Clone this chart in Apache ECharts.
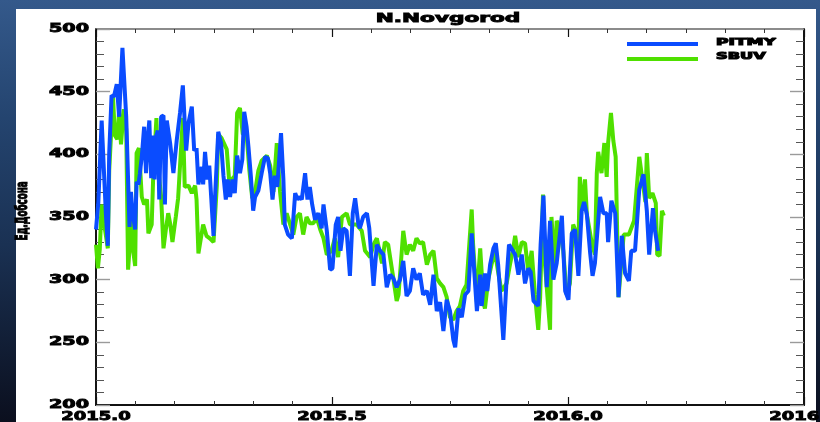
<!DOCTYPE html>
<html>
<head>
<meta charset="utf-8">
<script src="https://cdn.jsdelivr.net/npm/echarts@6/dist/echarts.min.js"></script>
<style>
html, body { margin: 0; padding: 0; width: 820px; height: 422px; overflow: hidden; }
body { position: relative; background: linear-gradient(180deg, #34598b 0%, #24446f 28%, #1a3153 58%, #0b0f1e 100%); }
#panel { position: absolute; left: 16px; top: 9px; width: 800px; height: 413px; background: #ffffff; }
#chart { position: absolute; left: 0; top: 0; width: 820px; height: 422px; }
</style>
</head>
<body>
<div id="panel"></div>
<div id="chart"></div>
<script>
// Total ozone over N.Novgorod, Dobson units, by decimal year
const chartTitle = 'N.Novgorod';
const yAxisTitle = 'Ед.Добсона';
const xTickLabels = ['2015.0', '2015.5', '2016.0', '2016.5'];
const xTickValues = [2015.0, 2015.5, 2016.0, 2016.5];
const yTickLabels = [200, 250, 300, 350, 400, 450, 500];
const seriesNames = ['PITMY', 'SBUV'];

const pitmy = [
  [2015.000,340],[2015.005,362],[2015.012,427],[2015.017,385],[2015.021,352],[2015.025,327],[2015.028,401],[2015.033,447],
  [2015.038,446],[2015.044,456],[2015.049,430],[2015.056,485],[2015.064,430],[2015.071,342],[2015.074,370],[2015.078,352],
  [2015.083,340],[2015.086,378],[2015.090,376],[2015.093,385],[2015.097,398],[2015.102,422],[2015.106,385],[2015.110,414],
  [2015.113,427],[2015.117,381],[2015.120,415],[2015.124,380],[2015.127,414],[2015.131,419],[2015.134,364],[2015.138,430],
  [2015.143,431],[2015.146,360],[2015.150,427],[2015.157,409],[2015.164,385],[2015.171,411],[2015.178,433],[2015.184,455],
  [2015.191,403],[2015.196,425],[2015.203,438],[2015.208,403],[2015.213,405],[2015.217,376],[2015.224,390],[2015.227,376],
  [2015.231,402],[2015.236,380],[2015.240,391],[2015.249,335],[2015.252,364],[2015.259,418],[2015.265,409],[2015.270,383],
  [2015.275,364],[2015.279,380],[2015.284,366],[2015.289,380],[2015.294,369],[2015.299,399],[2015.305,385],[2015.310,396],
  [2015.314,434],[2015.319,422],[2015.323,406],[2015.328,383],[2015.333,355],[2015.337,366],[2015.344,371],[2015.351,385],
  [2015.358,398],[2015.364,397],[2015.369,385],[2015.374,364],[2015.379,383],[2015.384,374],[2015.392,417],[2015.397,380],
  [2015.400,344],[2015.407,336],[2015.415,333],[2015.422,369],[2015.427,364],[2015.432,366],[2015.436,364],[2015.443,385],
  [2015.448,364],[2015.453,374],[2015.458,360],[2015.464,348],[2015.471,353],[2015.478,341],[2015.482,360],[2015.489,339],
  [2015.496,308],[2015.501,309],[2015.508,344],[2015.513,350],[2015.518,323],[2015.524,341],[2015.531,339],[2015.538,303],
  [2015.544,353],[2015.549,365],[2015.556,344],[2015.559,341],[2015.566,350],[2015.574,353],[2015.579,341],[2015.588,295],
  [2015.595,328],[2015.602,323],[2015.609,320],[2015.616,294],[2015.623,304],[2015.630,301],[2015.637,294],[2015.644,300],
  [2015.651,315],[2015.658,287],[2015.665,291],[2015.672,309],[2015.679,300],[2015.686,305],[2015.693,288],[2015.701,291],
  [2015.708,280],[2015.715,304],[2015.722,275],[2015.729,282],[2015.736,259],[2015.743,284],[2015.750,275],[2015.757,252],
  [2015.761,246],[2015.768,277],[2015.775,270],[2015.782,288],[2015.789,291],[2015.796,337],[2015.799,336],[2015.807,275],
  [2015.814,304],[2015.817,279],[2015.824,305],[2015.829,291],[2015.835,312],[2015.842,325],[2015.847,329],[2015.852,312],
  [2015.863,252],[2015.870,301],[2015.875,328],[2015.880,325],[2015.888,320],[2015.895,304],[2015.902,320],[2015.909,297],
  [2015.916,309],[2015.921,306],[2015.927,283],[2015.937,279],[2015.942,328],[2015.948,367],[2015.955,294],[2015.962,347],
  [2015.969,300],[2015.976,313],[2015.987,351],[2015.994,291],[2016.001,284],[2016.008,337],[2016.015,340],[2016.022,303],
  [2016.029,355],[2016.034,362],[2016.040,352],[2016.047,321],[2016.052,303],[2016.057,313],[2016.068,366],[2016.075,353],
  [2016.082,353],[2016.085,330],[2016.092,363],[2016.100,353],[2016.107,286],[2016.114,335],[2016.121,305],[2016.129,299],
  [2016.134,323],[2016.142,323],[2016.151,372],[2016.160,384],[2016.167,355],[2016.172,320],[2016.180,357],[2016.184,340],
  [2016.191,323]
];

const sbuv = [
  [2015.000,328],[2015.004,309],[2015.008,324],[2015.012,360],[2015.017,345],[2015.021,335],[2015.025,325],[2015.028,387],
  [2015.036,446],[2015.040,415],[2015.045,412],[2015.049,435],[2015.053,408],[2015.059,436],[2015.064,420],[2015.068,308],
  [2015.072,330],[2015.076,355],[2015.078,325],[2015.083,311],[2015.086,401],[2015.091,405],[2015.097,366],[2015.102,360],
  [2015.108,364],[2015.111,337],[2015.118,344],[2015.121,380],[2015.128,429],[2015.131,392],[2015.138,366],[2015.143,325],
  [2015.148,340],[2015.153,353],[2015.157,345],[2015.162,330],[2015.169,350],[2015.174,365],[2015.184,429],[2015.188,374],
  [2015.196,375],[2015.203,369],[2015.210,375],[2015.213,364],[2015.217,321],[2015.220,320],[2015.227,344],[2015.234,335],
  [2015.241,333],[2015.249,330],[2015.256,375],[2015.259,416],[2015.266,413],[2015.277,404],[2015.284,370],[2015.288,380],
  [2015.294,383],[2015.299,433],[2015.305,437],[2015.311,416],[2015.319,416],[2015.325,387],[2015.331,365],[2015.337,370],
  [2015.344,387],[2015.351,395],[2015.362,399],[2015.369,391],[2015.376,370],[2015.383,409],[2015.386,410],[2015.390,370],
  [2015.397,344],[2015.404,353],[2015.418,336],[2015.425,350],[2015.432,353],[2015.439,336],[2015.446,350],[2015.453,345],
  [2015.460,345],[2015.468,349],[2015.475,340],[2015.482,333],[2015.489,320],[2015.499,323],[2015.506,333],[2015.513,318],
  [2015.521,350],[2015.531,353],[2015.538,344],[2015.552,344],[2015.563,339],[2015.570,323],[2015.581,318],[2015.588,328],
  [2015.595,333],[2015.606,313],[2015.612,330],[2015.619,328],[2015.630,301],[2015.637,283],[2015.641,288],[2015.651,339],
  [2015.658,320],[2015.665,328],[2015.672,323],[2015.679,333],[2015.686,329],[2015.693,330],[2015.701,312],[2015.708,320],
  [2015.715,323],[2015.722,301],[2015.729,297],[2015.736,294],[2015.743,286],[2015.750,270],[2015.757,268],[2015.764,275],
  [2015.771,279],[2015.778,291],[2015.785,296],[2015.796,356],[2015.799,328],[2015.807,282],[2015.810,303],[2015.814,325],
  [2015.821,282],[2015.824,277],[2015.831,300],[2015.838,312],[2015.845,323],[2015.852,306],[2015.859,291],[2015.870,297],
  [2015.877,312],[2015.884,325],[2015.888,335],[2015.895,318],[2015.902,330],[2015.909,329],[2015.916,306],[2015.923,323],
  [2015.930,288],[2015.937,260],[2015.941,286],[2015.947,368],[2015.951,313],[2015.962,260],[2015.965,350],[2015.972,308],
  [2015.976,347],[2015.983,341],[2015.990,323],[2015.997,288],[2016.004,297],[2016.011,344],[2016.015,340],[2016.022,325],
  [2016.025,382],[2016.032,355],[2016.036,380],[2016.040,352],[2016.050,330],[2016.057,320],[2016.061,385],[2016.064,402],
  [2016.071,385],[2016.077,409],[2016.082,382],[2016.085,409],[2016.091,433],[2016.096,411],[2016.101,398],[2016.107,286],
  [2016.118,336],[2016.129,336],[2016.136,343],[2016.140,347],[2016.151,398],[2016.155,398],[2016.158,379],[2016.164,362],
  [2016.167,401],[2016.172,365],[2016.179,369],[2016.186,361],[2016.189,320],[2016.194,319],[2016.199,355],[2016.203,351]
];

const colors = { pitmy: '#0a4cff', sbuv: '#4fe000' };
const FONT = '"DejaVu Sans", "Liberation Sans", sans-serif';

function xAxisDef(pos, lineColor, lineWidth) {
  return {
    type: 'value', position: pos, min: 2015, max: 2016.5, interval: 0.5,
    axisLine: { show: true, onZero: false, lineStyle: { color: lineColor, width: lineWidth } },
    axisTick: { show: true, inside: true, length: 8, lineStyle: { color: '#111', width: 1.2 } },
    minorTick: { show: true, splitNumber: 6, length: 4, lineStyle: { color: '#333', width: 1 } },
    axisLabel: { show: false }, splitLine: { show: false }, minorSplitLine: { show: false }
  };
}
function yAxisDef(pos) {
  return {
    type: 'value', position: pos, min: 200, max: 500, interval: 50,
    axisLine: { show: true, onZero: false, lineStyle: { color: '#151515', width: 2 } },
    axisTick: { show: true, inside: true, length: 14, lineStyle: { color: '#9a9a9a', width: 1.4 } },
    minorTick: { show: true, splitNumber: 5, length: 8, lineStyle: { color: '#555', width: 1 } },
    axisLabel: { show: false }, splitLine: { show: false }, minorSplitLine: { show: false }
  };
}

const chart = echarts.init(document.getElementById('chart'), null, { renderer: 'canvas' });
chart.setOption({
  animation: false,
  backgroundColor: 'transparent',
  grid: { left: 96, top: 29, width: 708, height: 376, containLabel: false },
  xAxis: [xAxisDef('bottom', '#111', 2), xAxisDef('top', '#666', 1.5)],
  yAxis: [yAxisDef('left'), yAxisDef('right')],
  series: [
    { name: seriesNames[1], type: 'line', data: sbuv, showSymbol: false, z: 2,
      lineStyle: { color: colors.sbuv, width: 4, join: 'bevel' } },
    { name: seriesNames[0], type: 'line', data: pitmy, showSymbol: false, z: 3,
      lineStyle: { color: colors.pitmy, width: 4, join: 'bevel' } }
  ]
});

// Wide, heavy lettering for tick labels, title and legend
function txt(text, x, y, size, scaleX, align, vAlign, rotation, weight) {
  return {
    type: 'text', x: x, y: y, scaleX: scaleX, scaleY: 1, rotation: rotation || 0, z: 100,
    style: {
      text: text, fill: '#000', stroke: '#000', lineWidth: weight === undefined ? 0.9 : weight,
      font: 'bold ' + size + 'px ' + FONT,
      textAlign: align, textVerticalAlign: vAlign, align: align, verticalAlign: vAlign
    }
  };
}

const gfx = [];
yTickLabels.forEach(function (v) {
  const py = chart.convertToPixel({ yAxisIndex: 0 }, v);
  gfx.push(txt(String(v), 89, py, 12, 1.6, 'right', 'middle'));
});
xTickValues.forEach(function (v, i) {
  const px = chart.convertToPixel({ xAxisIndex: 0 }, v);
  gfx.push(txt(xTickLabels[i], px, 417, 12, 1.5, 'center', 'middle'));
});
const plotCenter = (chart.convertToPixel({ xAxisIndex: 0 }, 2015) + chart.convertToPixel({ xAxisIndex: 0 }, 2016.5)) / 2;
gfx.push(txt(chartTitle, plotCenter - 2, 19, 12, 1.8, 'center', 'middle'));
gfx.push(txt(yAxisTitle, 23, 211, 15, 0.58, 'center', 'middle', Math.PI / 2, 1.2));

// Legend
gfx.push({ type: 'line', z: 100, shape: { x1: 627, y1: 44, x2: 698, y2: 44 }, style: { stroke: colors.pitmy, lineWidth: 4 } });
gfx.push({ type: 'line', z: 100, shape: { x1: 627, y1: 59, x2: 698, y2: 59 }, style: { stroke: colors.sbuv, lineWidth: 4 } });
gfx.push(txt(seriesNames[0], 716, 43, 9, 1.9, 'left', 'middle', 0, 1));
gfx.push(txt(seriesNames[1], 716, 57, 9, 1.8, 'left', 'middle', 0, 1));

chart.setOption({ graphic: gfx });
</script>
</body>
</html>
